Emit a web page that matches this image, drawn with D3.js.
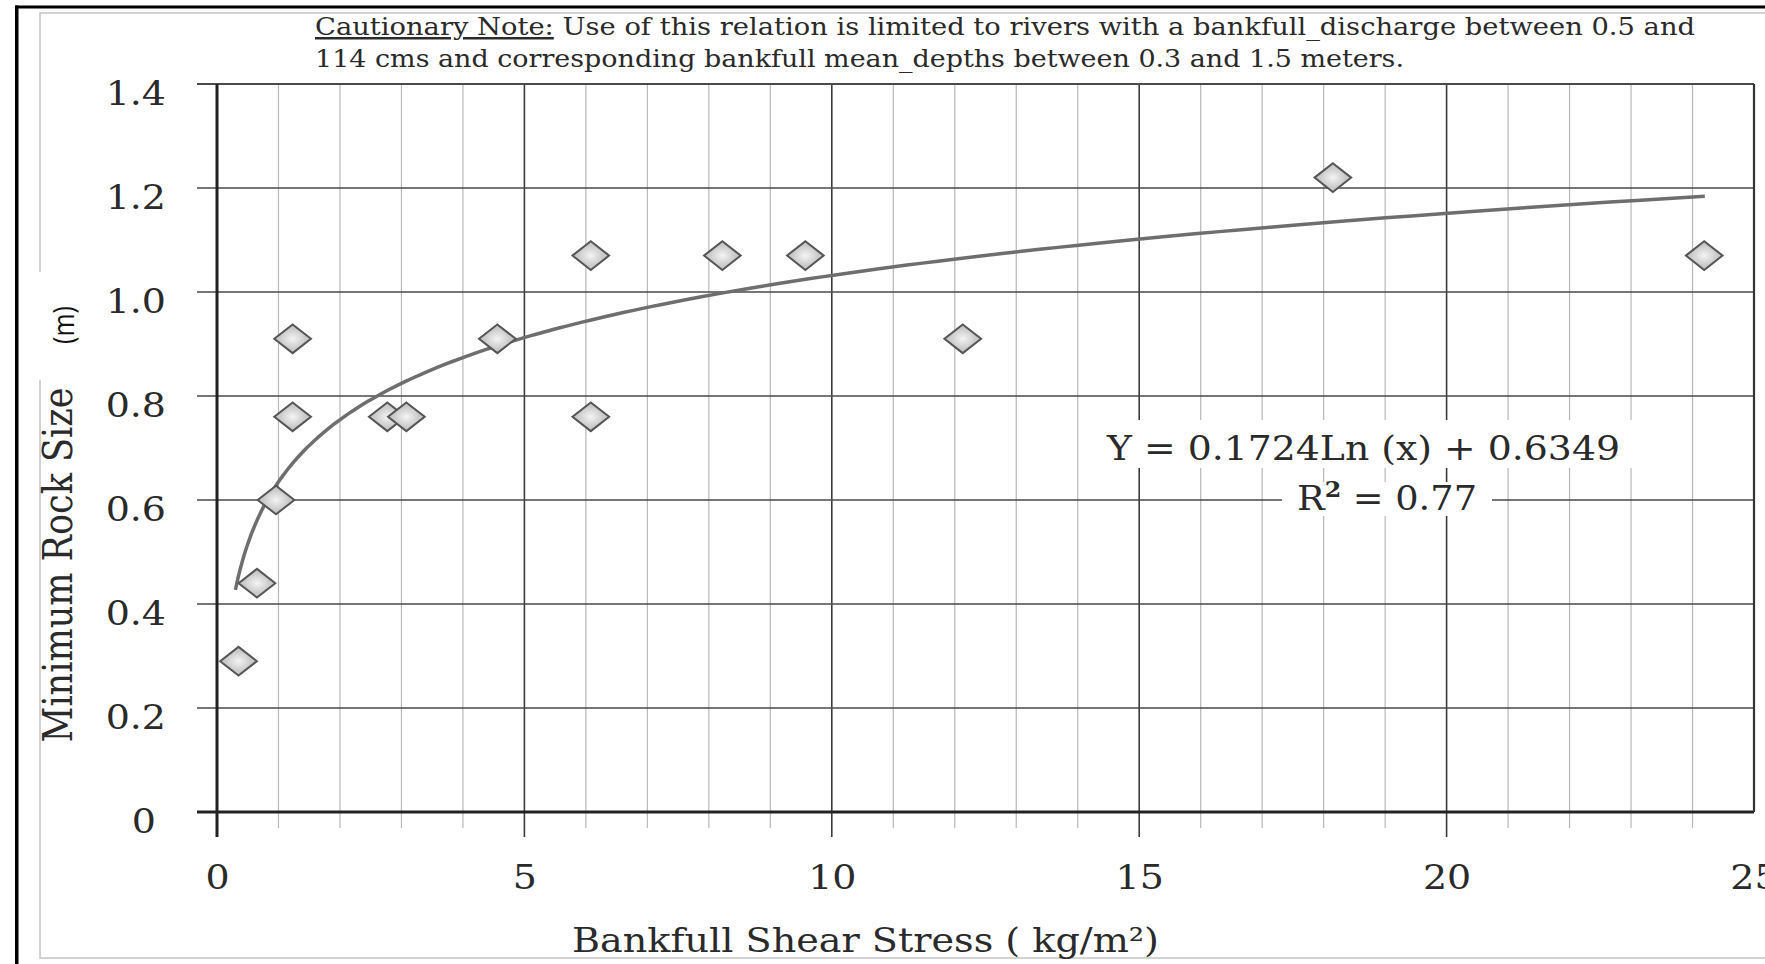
<!DOCTYPE html>
<html>
<head>
<meta charset="utf-8">
<script src="https://cdn.jsdelivr.net/npm/d3@7"></script>
<style>
body { margin: 0; background: #fff; }
svg { display: block; }
text { font-family: "DejaVu Serif", serif; fill: #2a2a2a; }
</style>
</head>
<body>
<svg width="1765" height="964"></svg>
<script>
// values
var shearStress = [0.35, 0.65, 0.96, 1.23, 1.23, 2.77, 3.08, 4.56, 6.08, 6.08, 8.22, 9.57, 12.13, 18.15, 24.19];
var rockSize    = [0.29, 0.44, 0.60, 0.91, 0.76, 0.76, 0.76, 0.91, 1.07, 0.76, 1.07, 1.07, 0.91, 1.22, 1.07];

var xTicks = [0, 5, 10, 15, 20, 25];
var xMinorTicks = [1, 2, 3, 4, 6, 7, 8, 9, 11, 12, 13, 14, 16, 17, 18, 19, 21, 22, 23, 24];
var yTicks = [0, 0.2, 0.4, 0.6, 0.8, 1.0, 1.2, 1.4];
var yTickLabels = ["0", "0.2", "0.4", "0.6", "0.8", "1.0", "1.2", "1.4"];

// log trend line as printed on the chart
var trendSlope = 0.1724, trendIntercept = 0.6349, trendRange = [0.3, 24.2];

var svg = d3.select("svg"),
	margin = {top: 84, right: 11, bottom: 152, left: 217},
	width = +svg.attr("width") - margin.left - margin.right,
	height = +svg.attr("height") - margin.top - margin.bottom;

var sx = 1.15; // the source picture is stretched sideways

var x = d3.scaleLinear().domain([0, 25]).range([0, width]),
	y = d3.scaleLinear().domain([0, 1.4]).range([height, 0]);

// page frame
svg.append("rect").attr("x", 40).attr("y", 13).attr("width", 1800).attr("height", 945)
	.style("fill", "#fff").style("stroke", "#c4c4c4").style("stroke-width", 1.5);
svg.append("rect").attr("x", 15).attr("y", 5.5).attr("width", 1760).attr("height", 3).style("fill", "#000");
svg.append("rect").attr("x", 15).attr("y", 5.5).attr("width", 3.5).attr("height", 964).style("fill", "#000");

var defs = svg.append("defs");
var grad = defs.append("radialGradient").attr("id", "mk");
grad.append("stop").attr("offset", "0%").attr("stop-color", "#f4f4f4");
grad.append("stop").attr("offset", "100%").attr("stop-color", "#c9c9c9");

var g = svg.append("g")
	.attr("transform", "translate(" + margin.left + "," + margin.top + ")");

// minor vertical grid
g.selectAll(".minor")
	.data(xMinorTicks)
	.enter().append("line")
	.attr("class", "minor")
	.attr("x1", function(d) { return x(d); })
	.attr("x2", function(d) { return x(d); })
	.attr("y1", 0)
	.attr("y2", height + 16)
	.style("stroke", "#b8b8b8")
	.style("stroke-width", 1.2);

// major vertical grid + ticks below the axis
g.selectAll(".major")
	.data(xTicks)
	.enter().append("line")
	.attr("class", "major")
	.attr("x1", function(d) { return x(d); })
	.attr("x2", function(d) { return x(d); })
	.attr("y1", 0)
	.attr("y2", function(d) { return d == 0 || d == 25 ? height : height + 25; })
	.style("stroke", "#3c3c3c")
	.style("stroke-width", 1.6);

// horizontal grid
g.selectAll(".hgrid")
	.data(yTicks)
	.enter().append("line")
	.attr("class", "hgrid")
	.attr("x1", -20)
	.attr("x2", width)
	.attr("y1", function(d) { return y(d); })
	.attr("y2", function(d) { return y(d); })
	.style("stroke", function(d) { return d == 0 ? "#222" : "#4a4a4a"; })
	.style("stroke-width", function(d) { return d == 0 ? 3 : (d == 1.4 ? 2.2 : 1.6); });

// left axis line and right border
g.append("line").attr("x1", 0).attr("x2", 0).attr("y1", y(1.4)).attr("y2", height + 25)
	.style("stroke", "#222").style("stroke-width", 3);
g.append("line").attr("x1", width).attr("x2", width).attr("y1", y(1.4)).attr("y2", height)
	.style("stroke", "#333").style("stroke-width", 2.2);

// axis labels
var xAxis = g.append("g")
	.attr("class", "x_axis")
	.attr("transform", "translate(0," + height + ")")
	.call(d3.axisBottom(x).tickValues(xTicks).tickSize(0));
xAxis.select(".domain").remove();
xAxis.selectAll("text")
	.attr("y", 77)
	.attr("dy", 0)
	.attr("transform", "scale(" + sx + ",1)")
	.style("font-size", "33px")
	.style("font-family", "DejaVu Serif")
	.style("fill", "#2a2a2a");

var yAxis = g.append("g")
	.attr("class", "y_axis")
	.call(d3.axisLeft(y).tickValues(yTicks).tickSize(0)
		.tickFormat(function(d, i) { return yTickLabels[i]; }));
yAxis.select(".domain").remove();
yAxis.selectAll("text")
	.attr("x", function(d) { return (d == 0 ? -61 : -51) / sx; })
	.attr("y", 20)
	.attr("dy", 0)
	.attr("transform", "scale(" + sx + ",1)")
	.style("font-size", "33px")
	.style("font-family", "DejaVu Serif")
	.style("fill", "#2a2a2a");

// trend curve
var trendX = d3.range(0, 201).map(function(i) {
	return trendRange[0] * Math.pow(trendRange[1] / trendRange[0], i / 200);
});
var line = d3.line()
	.x(function(d) { return x(d); })
	.y(function(d) { return y(trendSlope * Math.log(d) + trendIntercept); });
g.append("path")
	.datum(trendX)
	.attr("d", line)
	.style("fill", "none")
	.style("stroke", "#6e6e6e")
	.style("stroke-width", 3.5);

// data points (stretched diamonds)
var diamond = d3.symbol().type(d3.symbolSquare).size(410);
g.selectAll(".pt")
	.data(shearStress)
	.enter().append("path")
	.attr("class", "pt")
	.attr("d", diamond)
	.attr("transform", function(d, i) {
		return "translate(" + x(d) + "," + y(rockSize[i]) + ") scale(1.28,1) rotate(45)";
	})
	.attr("vector-effect", "non-scaling-stroke")
	.style("fill", "url(#mk)")
	.style("stroke", "#555")
	.style("stroke-width", 2);

// equation box
var eqBox = svg.append("g");
var eq1 = eqBox.append("text")
	.attr("x", 1107).attr("y", 460)
	.attr("textLength", 513).attr("lengthAdjust", "spacingAndGlyphs")
	.style("font-size", "34px")
	.text("Y = 0.1724Ln (x) + 0.6349");
var eq2 = eqBox.append("text")
	.attr("x", 1297).attr("y", 510)
	.attr("textLength", 180).attr("lengthAdjust", "spacingAndGlyphs")
	.style("font-size", "34px");
eq2.append("tspan").text("R");
eq2.append("tspan").attr("dy", -13).style("font-size", "22px").style("font-weight", "bold").text("2");
eq2.append("tspan").attr("dy", 13).text(" = 0.77");
var b1 = eq1.node().getBBox(), b2 = eq2.node().getBBox();
eqBox.insert("rect", ":first-child")
	.attr("x", b2.x - 15).attr("y", b2.y + 6)
	.attr("width", b2.width + 30).attr("height", b2.height - 8)
	.style("fill", "#fff");
eqBox.insert("rect", ":first-child")
	.attr("x", b1.x - 26).attr("y", b1.y - 8)
	.attr("width", b1.width + 52).attr("height", b1.height + 8)
	.style("fill", "#fff");

// cautionary note
var note1 = svg.append("text")
	.attr("x", 315).attr("y", 35)
	.attr("textLength", 1380).attr("lengthAdjust", "spacingAndGlyphs")
	.style("font-size", "25px");
note1.append("tspan").style("text-decoration", "underline").text("Cautionary Note:");
note1.append("tspan").text(" Use of this relation is limited to rivers with a bankfull_discharge between 0.5 and");
svg.append("text")
	.attr("x", 315).attr("y", 67)
	.attr("textLength", 1089).attr("lengthAdjust", "spacingAndGlyphs")
	.style("font-size", "25px")
	.text("114 cms and corresponding bankfull mean_depths between 0.3 and 1.5 meters.");

// axis titles
svg.append("text")
	.attr("x", 572).attr("y", 952)
	.attr("textLength", 587).attr("lengthAdjust", "spacingAndGlyphs")
	.style("font-size", "34px")
	.text("Bankfull Shear Stress ( kg/m\u00B2)");

svg.append("text")
	.attr("transform", "translate(72,565) rotate(-90) scale(1," + sx + ")")
	.attr("text-anchor", "middle")
	.attr("textLength", 355).attr("lengthAdjust", "spacingAndGlyphs")
	.style("font-size", "35px")
	.text("Minimum Rock Size");

// pasted unit label
svg.append("rect").attr("x", 20).attr("y", 272).attr("width", 72).attr("height", 108).style("fill", "#fff");
svg.append("text")
	.attr("transform", "translate(64,325) rotate(-90) scale(1," + sx + ")")
	.attr("text-anchor", "middle")
	.attr("dy", "0.35em")
	.style("font-family", "'Open Sans', sans-serif")
	.style("font-size", "25px")
	.style("fill", "#111")
	.text("(m)");
</script>
</body>
</html>
